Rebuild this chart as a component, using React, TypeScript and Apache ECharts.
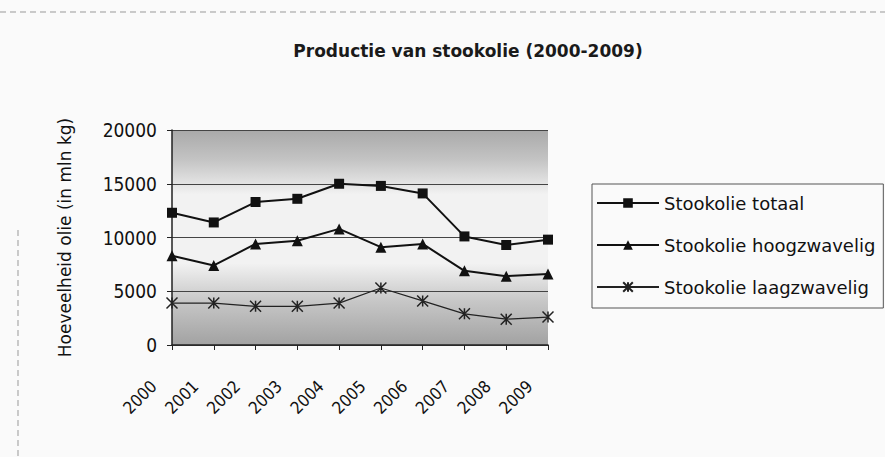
import React, { useEffect, useRef } from "react";
import * as echarts from "echarts";

const years = ["2000", "2001", "2002", "2003", "2004", "2005", "2006", "2007", "2008", "2009"];
const totaal = [12300, 11400, 13300, 13600, 15000, 14800, 14100, 10100, 9300, 9800];
const hoogzwavelig = [8300, 7400, 9400, 9700, 10800, 9100, 9400, 6900, 6400, 6600];
const laagzwavelig = [3900, 3900, 3600, 3600, 3900, 5300, 4100, 2900, 2400, 2600];

const FONT = "DejaVu Sans";
const COND = "'DejaVu Sans Condensed', 'DejaVu Sans', sans-serif";

export default function App() {
  const ref = useRef<HTMLDivElement>(null);
  useEffect(() => {
    if (!ref.current) return;
    const chart = echarts.init(ref.current, undefined, { renderer: "svg" });
    const xPath = "path://M0,0L10,10M10,0L0,10M5,0L5,10";
    chart.setOption({
      animation: false,
      backgroundColor: "#fafafa",
      title: {
        text: "Productie van stookolie (2000-2009)",
        left: 463,
        top: 37,
        textAlign: "center",
        textStyle: { fontFamily: FONT, fontSize: 17, fontWeight: "bold", color: "#1a1a1a" },
      },
      legend: {
        orient: "vertical",
        left: 592,
        top: 184,
        itemWidth: 62,
        itemHeight: 12,
        itemGap: 24,
        padding: [10, 8, 12, 4],
        borderColor: "#555",
        borderWidth: 1,
        textStyle: { fontFamily: FONT, fontSize: 18, color: "#111" },
        data: ["Stookolie totaal", "Stookolie hoogzwavelig", "Stookolie laagzwavelig"],
      },
      grid: {
        left: 172,
        right: 337,
        top: 130,
        bottom: 112,
        show: true,
        borderWidth: 0,
        backgroundColor: new echarts.graphic.LinearGradient(0, 0, 0, 1, [
          { offset: 0, color: "#a9a9a9" },
          { offset: 0.14, color: "#c4c4c4" },
          { offset: 0.3, color: "#f2f2f2" },
          { offset: 0.62, color: "#f2f2f2" },
          { offset: 0.8, color: "#c6c6c6" },
          { offset: 1, color: "#a2a2a2" },
        ]),
      },
      xAxis: {
        type: "category",
        data: years,
        boundaryGap: false,
        axisLine: { lineStyle: { color: "#222", width: 1.5 } },
        axisTick: { show: true, alignWithLabel: true, lineStyle: { color: "#222" }, length: 5 },
        axisLabel: {
          rotate: 45,
          margin: 20,
          padding: [0, 26, 0, 0],
          fontFamily: COND,
          fontSize: 17,
          color: "#111",
          interval: 0,
        },
        splitLine: { show: false },
      },
      yAxis: {
        type: "value",
        min: 0,
        max: 20000,
        interval: 5000,
        name: "Hoeveelheid olie (in mln kg)",
        nameLocation: "middle",
        nameGap: 99,
        nameRotate: 90,
        nameTextStyle: { fontFamily: FONT, fontSize: 17, color: "#111" },
        axisLine: { show: true, lineStyle: { color: "#222", width: 1.5 } },
        axisTick: { show: true, lineStyle: { color: "#222" }, length: 5 },
        axisLabel: {
          fontFamily: COND,
          fontSize: 19,
          color: "#111",
          margin: 15,
          formatter: (v: number) => String(v),
        },
        splitLine: { show: true, lineStyle: { color: "#444", width: 1 } },
      },
      series: [
        {
          name: "Stookolie totaal",
          type: "line",
          data: totaal,
          symbol: "rect",
          symbolSize: 10,
          lineStyle: { color: "#111", width: 2 },
          itemStyle: { color: "#111" },
        },
        {
          name: "Stookolie hoogzwavelig",
          type: "line",
          data: hoogzwavelig,
          symbol: "triangle",
          symbolSize: 11,
          lineStyle: { color: "#111", width: 2 },
          itemStyle: { color: "#111" },
        },
        {
          name: "Stookolie laagzwavelig",
          type: "line",
          data: laagzwavelig,
          symbol: xPath,
          symbolSize: 11,
          lineStyle: { color: "#222", width: 1.2 },
          itemStyle: { color: "#222", borderColor: "#222", borderWidth: 1.5 },
        },
      ],
      graphic: [
        { type: "line", shape: { x1: 0, y1: 12, x2: 885, y2: 12 }, style: { stroke: "#999", lineWidth: 1, lineDash: [6, 4] } },
        { type: "line", shape: { x1: 18, y1: 230, x2: 18, y2: 457 }, style: { stroke: "#999", lineWidth: 1, lineDash: [6, 4] } },
      ],
    });
    return () => chart.dispose();
  }, []);
  return <div ref={ref} style={{ width: 885, height: 457, position: "absolute", left: 0, top: 0 }} />;
}
